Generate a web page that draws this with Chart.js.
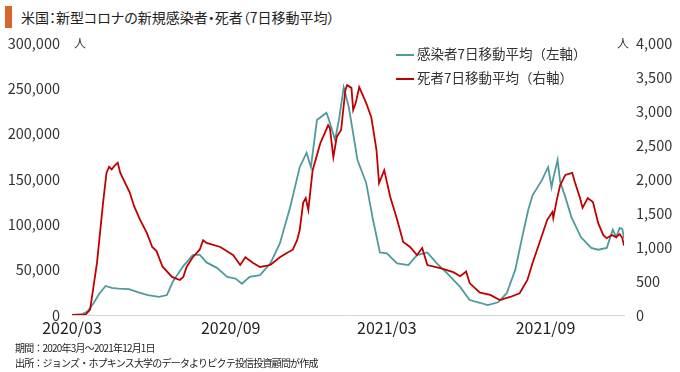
<!DOCTYPE html>
<html>
<head>
<meta charset="utf-8">
<script src="https://cdn.jsdelivr.net/npm/chart.js@4.4.0/dist/chart.umd.min.js"></script>
<style>
body { margin: 0; background: #fff; }
#wrap { position: relative; width: 680px; height: 372px; font-family: "Noto Sans CJK JP", sans-serif; color: #222; overflow: hidden; }
#bar { position: absolute; left: 5px; top: 6px; width: 7px; height: 22px; background: #d8652b; }
#title { position: absolute; left: 21px; top: 6px; font-size: 14px; line-height: 22px; white-space: nowrap; font-feature-settings: "palt"; }
canvas { position: absolute; left: 0; top: 0; }
.unit { position: absolute; top: 34px; font-size: 12px; color: #333; }
.leg { position: absolute; left: 396px; font-size: 13.5px; line-height: 18px; white-space: nowrap; color: #333; }
.leg i { display: inline-block; width: 18px; height: 0; border-top: 2px solid; vertical-align: middle; margin-right: 3px; }
.note { position: absolute; left: 15px; font-size: 10px; line-height: 13px; white-space: nowrap; color: #222; letter-spacing: -0.8px; }
</style>
</head>
<body>
<div id="wrap">
  <div id="bar"></div>
  <div id="title">米国：新型コロナの新規感染者・死者（7日移動平均）</div>
  <canvas id="chart" width="680" height="372"></canvas>
  <div class="unit" style="left:74px">人</div>
  <div class="unit" style="left:617px">人</div>
  <div class="leg" id="leg1" style="top:44px"></div>
  <div class="leg" id="leg2" style="top:68px"></div>
  <div class="note" style="top:341px">期間：2020年3月～2021年12月1日</div>
  <div class="note" style="top:356px">出所：ジョンズ・ホプキンス大学のデータよりピクテ投信投資顧問が作成</div>
</div>
<script>
// series labels and colours
const seriesNames = ['感染者7日移動平均（左軸）', '死者7日移動平均（右軸）'];
const seriesColors = ['#4f9a9c', '#c00000'];

// x axis labels
const tickDates = ['2020-03-01', '2020-09-01', '2021-03-01', '2021-09-01'];
const tickLabels = ['2020/03', '2020/09', '2021/03', '2021/09'];
const startDate = '2020-03-01';
const endDate = '2021-12-01';

// new cases, 7 day average (left axis)
const caseDates = [
  '2020-03-01','2020-03-12','2020-03-19','2020-03-26','2020-04-02','2020-04-09','2020-04-16','2020-04-24',
  '2020-05-06','2020-05-17','2020-05-28','2020-06-10','2020-06-19','2020-06-26','2020-07-08','2020-07-19',
  '2020-07-27','2020-08-04','2020-08-16','2020-08-28','2020-09-07','2020-09-14','2020-09-23','2020-10-05',
  '2020-10-17','2020-10-28','2020-11-09','2020-11-20','2020-11-28','2020-12-03','2020-12-10','2020-12-21',
  '2020-12-24','2020-12-31','2021-01-05','2021-01-10','2021-01-16','2021-01-26','2021-02-05','2021-02-13',
  '2021-02-21','2021-03-01','2021-03-13','2021-03-26','2021-04-05','2021-04-17','2021-04-28','2021-05-10',
  '2021-05-25','2021-06-05','2021-06-17','2021-06-26','2021-07-08','2021-07-18','2021-07-28','2021-08-05',
  '2021-08-12','2021-08-17','2021-08-28','2021-09-04','2021-09-08','2021-09-10','2021-09-15','2021-09-18',
  '2021-09-24','2021-10-01','2021-10-12','2021-10-24','2021-11-01','2021-11-11','2021-11-18','2021-11-22',
  '2021-11-26','2021-11-29','2021-12-01'
];
const caseValues = [
  0, 300, 4000, 13000, 24000, 32000, 30000, 29000,
  28500, 25000, 22000, 20000, 22000, 37000, 54000, 66000,
  66500, 58000, 52000, 42000, 40000, 34500, 42000, 44000,
  57000, 79000, 119000, 163000, 179000, 163000, 215000, 223000,
  215000, 193000, 218000, 251000, 229000, 171000, 146000, 105000,
  69000, 68000, 57000, 55000, 66000, 69000, 57000, 46000,
  31000, 16500, 13500, 11000, 14000, 24000, 50000, 86000,
  116000, 132000, 149000, 163000, 141000, 151000, 171000, 147000,
  130000, 108000, 86000, 74000, 72000, 74000, 94000, 86000,
  96000, 95000, 85000
];

// deaths, 7 day average (right axis)
const deathDates = [
  '2020-03-01','2020-03-17','2020-03-22','2020-03-30','2020-04-06','2020-04-10','2020-04-13','2020-04-16',
  '2020-04-19','2020-04-23','2020-04-26','2020-04-30','2020-05-07','2020-05-12','2020-05-19','2020-05-27',
  '2020-06-02','2020-06-07','2020-06-14','2020-06-25','2020-07-04','2020-07-08','2020-07-12','2020-07-19',
  '2020-07-27','2020-07-31','2020-08-04','2020-08-20','2020-09-04','2020-09-12','2020-09-18','2020-09-27',
  '2020-10-05','2020-10-17','2020-10-28','2020-11-06','2020-11-12','2020-11-17','2020-11-20','2020-11-24',
  '2020-11-27','2020-11-30','2020-12-05','2020-12-14','2020-12-23','2020-12-25','2020-12-29','2021-01-02',
  '2021-01-07','2021-01-12','2021-01-14','2021-01-19','2021-01-21','2021-01-24','2021-01-28','2021-02-05',
  '2021-02-11','2021-02-17','2021-02-20','2021-02-26','2021-03-05','2021-03-13','2021-03-20','2021-03-28',
  '2021-04-05','2021-04-11','2021-04-17','2021-05-02','2021-05-17','2021-05-25','2021-06-01','2021-06-05',
  '2021-06-17','2021-06-29','2021-07-10','2021-07-22','2021-08-02','2021-08-11','2021-08-17','2021-08-26',
  '2021-09-03','2021-09-09','2021-09-10','2021-09-14','2021-09-18','2021-09-24','2021-10-02','2021-10-05',
  '2021-10-11','2021-10-14','2021-10-20','2021-10-26','2021-11-01','2021-11-07','2021-11-11','2021-11-17',
  '2021-11-22','2021-11-26','2021-11-29','2021-12-01'
];
const deathValues = [
  0, 10, 80, 770, 1650, 2090, 2180, 2140,
  2190, 2240, 2090, 1985, 1800, 1600, 1400, 1200,
  1000, 940, 710, 560, 515, 560, 710, 850,
  960, 1100, 1060, 1000, 880, 735, 850, 765,
  706, 735, 850, 920, 960, 1100, 1250, 1650,
  1720, 1545, 2130, 2530, 2790, 2750, 2320, 2620,
  2720, 3310, 3380, 3340, 3015, 3120, 3350, 3120,
  2910, 2430, 1940, 2130, 1735, 1400, 1075, 1000,
  880, 985, 735, 690, 630, 570, 640, 470,
  330, 295, 220, 265, 320, 515, 765, 1100,
  1400, 1515, 1425, 1690, 1910, 2060, 2090, 1955,
  1720, 1575, 1720, 1660, 1355, 1175, 1130, 1175,
  1145, 1190, 1135, 1020
];

const base = Date.UTC(2020, 2, 1);
function toDay(s) {
  const [y, m, d] = s.split('-').map(Number);
  return Math.round((Date.UTC(y, m - 1, d) - base) / 86400000);
}
const tickDays = tickDates.map(toDay);

document.getElementById('leg1').innerHTML = '<i style="border-color:' + seriesColors[0] + '"></i>' + seriesNames[0];
document.getElementById('leg2').innerHTML = '<i style="border-color:' + seriesColors[1] + '"></i>' + seriesNames[1];

const tickFont = { family: "'Noto Sans CJK JP', sans-serif", size: 14.5 };

new Chart(document.getElementById('chart'), {
  type: 'line',
  data: {
    datasets: [{
      label: seriesNames[1],
      data: deathDates.map((d, i) => ({ x: toDay(d), y: deathValues[i] })),
      borderColor: seriesColors[1],
      borderWidth: 1.8,
      pointRadius: 0,
      tension: 0,
      yAxisID: 'y2',
      order: 0
    }, {
      label: seriesNames[0],
      data: caseDates.map((d, i) => ({ x: toDay(d), y: caseValues[i] })),
      borderColor: seriesColors[0],
      borderWidth: 1.8,
      pointRadius: 0,
      tension: 0,
      yAxisID: 'y',
      order: 1
    }]
  },
  options: {
    responsive: false,
    animation: false,
    layout: { padding: { top: 43, left: 0, right: 0, bottom: 0 } },
    plugins: { legend: { display: false }, tooltip: { enabled: false } },
    scales: {
      x: {
        type: 'linear',
        min: toDay(startDate),
        max: toDay(endDate),
        afterBuildTicks: scale => { scale.ticks = tickDays.map(v => ({ value: v })); },
        afterFit: scale => { scale.height = 57; },
        grid: { display: false, drawTicks: false },
        border: { display: true, color: '#d4d4d4', width: 1 },
        ticks: {
          autoSkip: false,
          maxRotation: 0,
          padding: 3,
          color: '#222',
          font: { family: tickFont.family, size: 16 },
          callback: (v, i) => tickLabels[i]
        }
      },
      y: {
        position: 'left',
        min: 0,
        max: 300000,
        afterFit: scale => { scale.width = 72; },
        grid: { display: false, drawTicks: false },
        border: { display: false },
        ticks: {
          stepSize: 50000,
          padding: 12,
          color: '#333',
          font: tickFont,
          callback: v => v.toLocaleString('en-US')
        }
      },
      y2: {
        position: 'right',
        min: 0,
        max: 4000,
        afterFit: scale => { scale.width = 56; },
        grid: { display: false, drawTicks: false },
        border: { display: false },
        ticks: {
          stepSize: 500,
          padding: 12,
          color: '#333',
          font: tickFont,
          callback: v => v.toLocaleString('en-US')
        }
      }
    }
  }
});
</script>
</body>
</html>
